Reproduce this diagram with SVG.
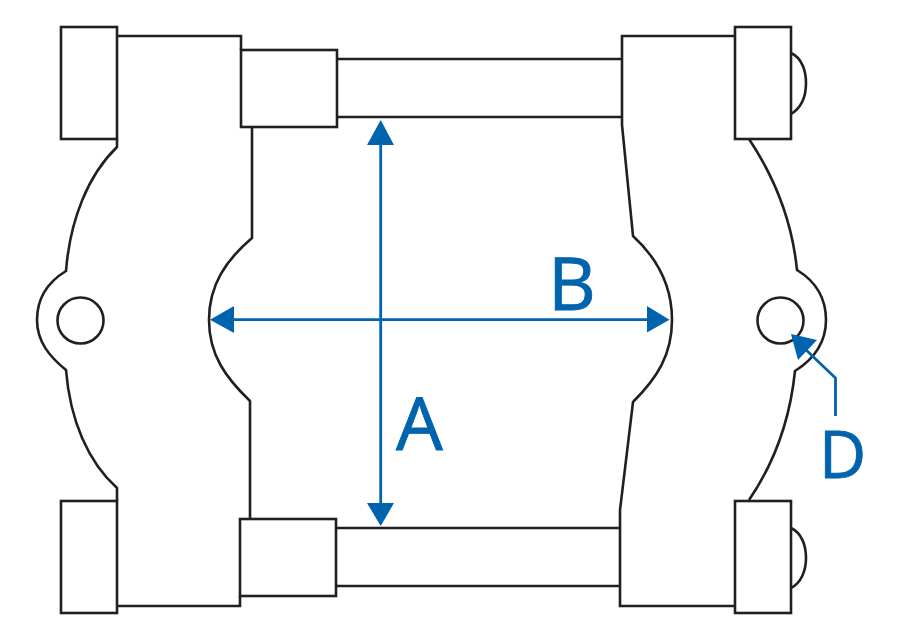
<svg xmlns="http://www.w3.org/2000/svg" width="900" height="640" viewBox="0 0 900 640">
<defs>
<style>
.o{fill:none;stroke:#231f20;stroke-width:2.6;stroke-linejoin:miter}
.b{fill:none;stroke:#0063ae;stroke-width:2.8}
.h{fill:#0063ae;stroke:none}
.t{font-family:"Open Sans","Liberation Sans",sans-serif;font-size:74px;fill:#0063ae;stroke:#0063ae;stroke-width:.9}
</style>
</defs>
<rect width="900" height="640" fill="#fff"/>
<g id="body-left">
<path class="o" d="M117 36H241V50M252 127V238C226 260 209 285 209 320C209 355 226 378 250 401V519M240 596V606H117M117 139V147C88 175 70 220 66 271C48 282 37 298 37 320C37 342 50 357 66 370C70 420 88 462 117 488V501"/>
<circle class="o" cx="80.500" cy="320.500" r="23"/>
</g>
<g id="body-right">
<path class="o" d="M735 36H622V125L633 236C657 258 672 285 672 320C672 355 657 378 633 402L620 510V606H735M749 139C775 178 792 220 797 270C815 281 826 298 826 320C826 342 814 359 795 371C790 420 775 462 749 500"/>
<circle class="o" cx="780.500" cy="320.500" r="23"/>
</g>
<g id="clamp-tl"><rect class="o" x="61" y="27" width="56" height="112"/></g>
<g id="clamp-bl"><rect class="o" x="61" y="501" width="56" height="112"/></g>
<g id="clamp-tr"><rect class="o" x="735" y="27" width="56" height="112"/><path class="o" d="M791 53C802 58 806 71 806 83C806 97 801 108 791 114"/></g>
<g id="clamp-br"><rect class="o" x="735" y="501" width="56" height="112"/><path class="o" d="M791 528C802 533 806 546 806 558C806 571 801 583 791 588"/></g>
<g id="rod-top"><rect class="o" x="241" y="50" width="96" height="77"/><path class="o" d="M337 59H622M337 117H622"/></g>
<g id="rod-bottom"><rect class="o" x="240" y="519" width="96" height="77"/><path class="o" d="M336 528H620M336 586H620"/></g>
<g id="connectors">
<path class="b" d="M380.700 140V505"/>
<path class="h" d="M380.700 120L394 145H367Z"/>
<path class="h" d="M380.700 526L367 503H394Z"/>
<path class="b" d="M230 319.700H650"/>
<path class="h" d="M210 319.700L234 306V333Z"/>
<path class="h" d="M669.500 319.700L647 306V332.500Z"/>
<path class="b" d="M835.500 416V378L803 347"/>
<path class="h" d="M791 334L817 340L798 360Z"/>
</g>
<g id="labels">
<text class="t" x="396" y="450">A</text>
<text class="t" x="548" y="310">B</text>
<text class="t" x="819" y="478" style="font-size:65px">D</text>
</g>
</svg>
